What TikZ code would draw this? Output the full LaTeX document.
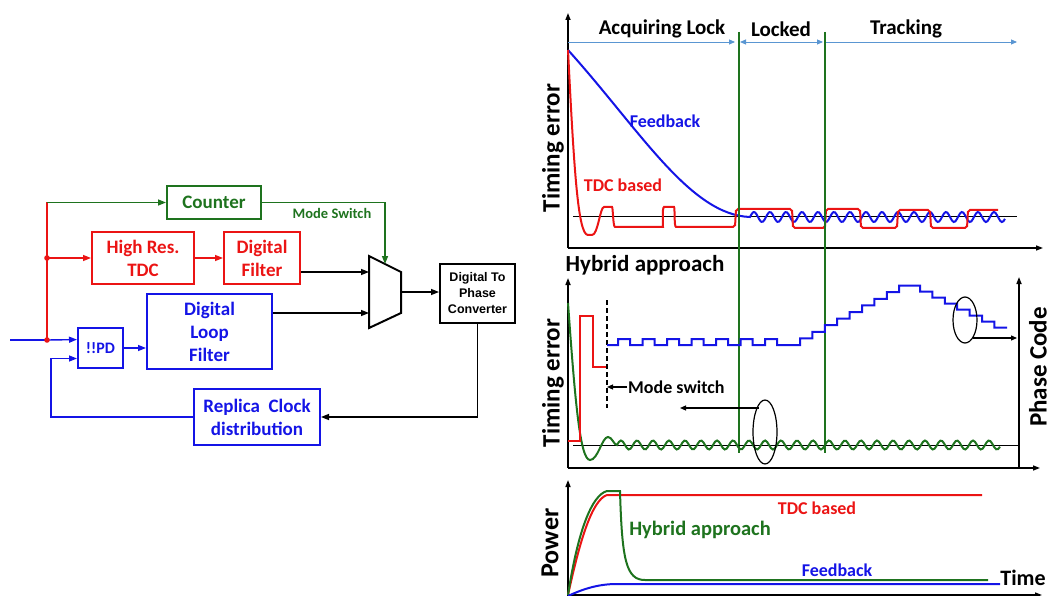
\documentclass[tikz,border=0pt]{standalone}
\usepackage{fontspec}
\setmainfont{Carlito}
\newfontfamily\arialfont{Liberation Sans}
\usetikzlibrary{arrows.meta,shapes.geometric,calc}
\definecolor{myred}{RGB}{235,20,20}
\definecolor{myblue}{RGB}{20,20,230}
\definecolor{mygreen}{RGB}{30,115,30}
\definecolor{phblue}{RGB}{90,150,210}

\tikzset{
  blk/.style={draw, line width=2pt, align=center, inner sep=0pt,
    font=\bfseries\fontsize{19}{23}\selectfont},
  conn/.style={line width=1.4pt, -{Triangle[length=8pt,width=6pt]}},
  ax/.style={line width=1.5pt, -{Triangle[length=7pt,width=5pt]}},
  ph/.style={phblue, line width=0.9pt},
  lbl/.style={font=\bfseries\fontsize{18}{20}\selectfont},
  head/.style={font=\bfseries\fontsize{21}{23}\selectfont},
  big/.style={font=\bfseries\fontsize{25}{27}\selectfont},
  curve/.style={line width=2pt},
}

\begin{document}
\begin{tikzpicture}[x=1pt,y=-1pt]
\useasboundingbox (0,0) rectangle (1052,596);

% block diagram
\node[blk, mygreen, minimum width=94pt, minimum height=33pt] (cnt) at (214,202.5) {Counter};
\node[blk, myred, minimum width=102pt, minimum height=52pt] (tdc) at (143,258) {High Res.\\TDC};
\node[blk, myred, minimum width=76pt, minimum height=52pt] (filt) at (262,258) {Digital\\Filter};
\node[blk, myblue, minimum width=125pt, minimum height=75pt] (dlf) at (209.5,331.5) {Digital\\Loop\\Filter};
\node[blk, myblue, minimum width=45pt, minimum height=40pt,
  font=\bfseries\fontsize{16}{18}\selectfont] (pd) at (100.5,348) {!!PD};
\node[blk, myblue, minimum width=126pt, minimum height=56pt] (rep) at (257,417) {Replica\ \ Clock\\distribution};
\node[blk, black, minimum width=75pt, minimum height=59pt,
  font=\arialfont\bfseries\fontsize{12.5}{16}\selectfont] (dpc) at (477.5,293.5) {Digital To\\Phase\\Converter};

% mux
\draw[line width=2pt] (369,256) -- (401,272) -- (401,313) -- (369,328) -- cycle;
\coordinate (muxa) at (369,272);
\coordinate (muxb) at (369,313);
\coordinate (muxo) at (401,292);
\coordinate (muxs) at (385,264);

\coordinate (in) at (10,340);
\coordinate (sp1) at (47,258);
\coordinate (sp2) at (47,340);
\coordinate (top) at (47,202.5);
\coordinate (pda) at ($(pd.north west)!0.3!(pd.south west)$);
\coordinate (pdb) at ($(pd.north west)!0.75!(pd.south west)$);

\draw[myblue, line width=1.4pt] (in) -- (sp2);
\draw[conn, myblue] (sp2) -- (pda);
\draw[myred, line width=1.4pt] (sp2) -- (top);
\draw[conn, mygreen] (top) -- (cnt.west);
\draw[conn, myred] (sp1) -- (tdc.west);
\draw[conn, myred] (tdc.east) -- (filt.west);
\fill[myred] (sp1) circle (2.8pt);
\fill[myred] (sp2) circle (2.8pt);
\draw[conn] (filt.east |- muxa) -- (muxa);
\draw[conn] (dlf.east |- muxb) -- (muxb);
\draw[conn] (muxo) -- (muxo -| dpc.west);
\draw[conn, mygreen] (cnt.east) -| (muxs);
\node[mygreen, font=\bfseries\fontsize{14.5}{16}\selectfont] (msw) at (332,213) {Mode Switch};
\draw[conn] (dpc.south) |- (rep.east);
\draw[conn, myblue] (rep.west) -- ++(-142,0) |- (pdb);
\draw[conn, myblue] (pd.east) -- (pd.east -| dlf.west);

% top plot
\draw[ax] (568,248) -- (568,13);
\draw[ax] (568,248) -- (1043,248);
\draw[ph, -{Triangle[length=6pt,width=5pt]}] (568,42) -- (735,42);
\draw[ph, {Triangle[length=6pt,width=5pt]}-{Triangle[length=6pt,width=5pt]}] (740,42) -- (823,42);
\draw[ph, -{Triangle[length=6pt,width=5pt]}] (826,42) -- (1017,42);
\node[head] (acq) at (662,29) {Acquiring Lock};
\node[head] (lck) at (781,29) {Locked};
\node[head] (trk) at (906,29) {Tracking};
\node[big, rotate=90] (te1) at (553,148) {Timing error};
\draw[line width=1pt] (573,217) -- (1017,217);
\draw[curve, myblue] (568,50) .. controls (640,130) and (690,215) .. (750,217)
  -- plot[domain=750:1005, samples=160] (\x,{217-5*sin((\x-750)*22.5)});
\draw[curve, myred, rounded corners=2pt] (568,50) .. controls (574,170) and (578,235) .. (590,235)
  .. controls (598,235) and (600,207) .. (606,207) -- (610,207)
  .. controls (613,207) and (613,227) .. (617,227) -- (661,227)
  .. controls (663,227) and (662,207) .. (666,207) -- (672,207)
  .. controls (675,207) and (674,227) .. (678,227) -- (735,227) -- (736,209) -- (792,209)
  -- (793,228) -- (825,228) -- (826,209) -- (860,209) -- (861,228) -- (897,228)
  -- (898,210) -- (930,210) -- (931,228) -- (967,228) -- (968,210) -- (998,210);
\node[lbl, myblue] (fb1) at (665,121) {Feedback};
\node[lbl, myred] (tdc1) at (623,185) {TDC based};

% mode boundaries
\draw[mygreen, line width=2pt] (739,32) -- (739,453);
\draw[mygreen, line width=2pt] (825,32) -- (825,453);

% hybrid plot
\node[font=\bfseries\fontsize{23}{25}\selectfont] (hyb) at (645,265) {Hybrid approach};
\draw[ax] (568,468) -- (568,278);
\draw[ax] (568,468) -- (1040,468);
\draw[ax] (1019,468) -- (1019,277);
\node[big, rotate=90] (te2) at (553,383) {Timing error};
\node[big, rotate=90] (pc) at (1038,367) {Phase Code};
\draw[line width=1pt] (573,445) -- (1018,445);
\draw[curve, mygreen] (568,303) .. controls (575,400) and (580,460) .. (590,460)
  .. controls (598,460) and (602,437) .. (608,437) .. controls (612,437) and (614,445) .. (617,445)
  -- plot[domain=617:1000, samples=200] (\x,{445-4.5*sin((\x-617)*22.5)});
\draw[curve, myred] (568,441) -- (580,441) -- (580,316) -- (593,316) -- (593,367) -- (607,367);
\draw[line width=1.3pt, dash pattern=on 5pt off 3pt] (607,300) -- (607,408);
\node[lbl, anchor=west, inner sep=1pt] (ms) at (627,387) {Mode switch};
\coordinate (msa) at (607,387);
\draw[line width=1.2pt, -{Triangle[length=6pt,width=5pt]}] (ms.west) -- (msa);
\draw[curve, myblue] (607,345)
  \foreach \k in {0,...,6} { -- ({618+24.5*\k},345) -- ({618+24.5*\k},339) -- ({630+24.5*\k},339) -- ({630+24.5*\k},345) }
  -- (800,345)
  \foreach \k in {0,...,8} { -- ({800+12.4*\k},{345-6.6*\k}) -- ({800+12.4*\k},{345-6.6*(\k+1)}) }
  -- (920,285.6)
  \foreach \k in {0,...,6} { -- ({920+12.4*\k},{285.6+6*\k}) -- ({920+12.4*\k},{285.6+6*(\k+1)}) }
  -- (1007,327.6);
\node[draw, ellipse, line width=1.2pt, minimum width=24pt, minimum height=46pt, inner sep=0pt] (ell1) at (965,320) {};
\node[draw, ellipse, line width=1.2pt, minimum width=24pt, minimum height=64pt, inner sep=0pt] (ell2) at (765,432) {};
\coordinate (pcin) at (1017,338);
\coordinate (teout) at (680,408);
\draw[line width=1.2pt, -{Triangle[length=6pt,width=5pt]}] (ell1.center) ++(7.5,18) -- (pcin);
\draw[line width=1.2pt, -{Triangle[length=6pt,width=5pt]}] (ell2.center) ++(-6,-24) -- (teout);

% power plot
\draw[ax] (568,596) -- (568,480);
\draw[ax] (568,595) -- (1042,595);
\node[font=\bfseries\fontsize{26}{28}\selectfont, rotate=90] (pw) at (550,543) {Power};
\draw[curve, myred] (568,595) .. controls (580,540) and (592,500) .. (607,495) -- (982,495);
\draw[curve, mygreen] (568,595) .. controls (578,530) and (592,495) .. (607,491) -- (620,491)
  .. controls (622,560) and (626,580) .. (645,580) -- (988,580);
\draw[curve, myblue] (568,596) .. controls (585,588) and (600,584) .. (617,584) -- (1000,584);
\node[lbl, myred] (tdc3) at (817,508) {TDC based};
\node[mygreen, font=\bfseries\fontsize{20.5}{22}\selectfont] (hyb3) at (700,530) {Hybrid approach};
\node[lbl, myblue] (fb3) at (837,570) {Feedback};
\node[big, font=\bfseries\fontsize{22}{24}\selectfont] (time) at (1023,578) {Time};
\end{tikzpicture}
\end{document}
